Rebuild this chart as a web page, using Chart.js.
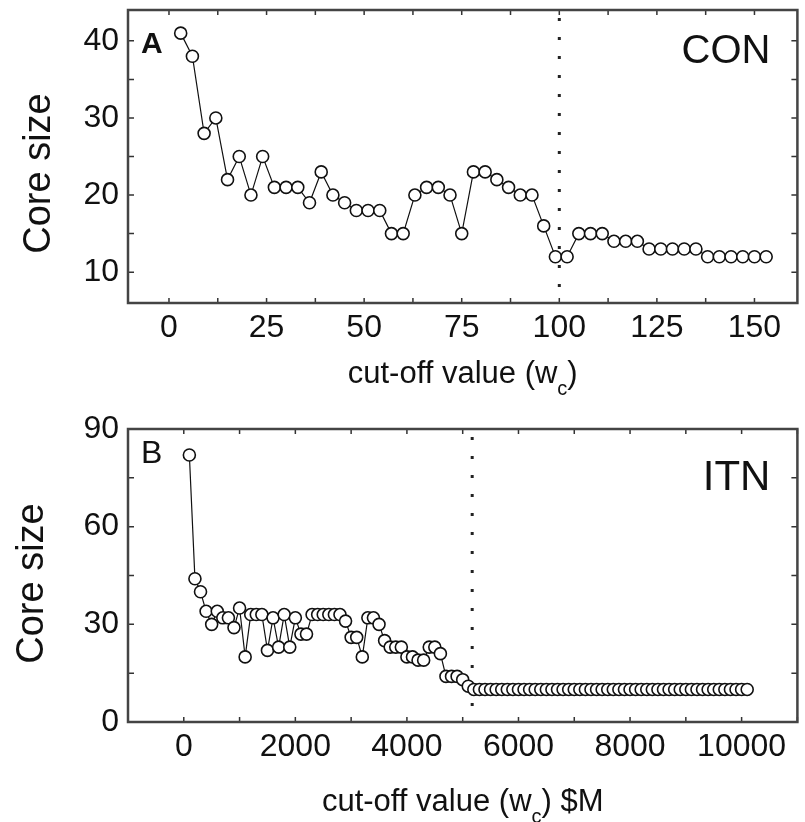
<!DOCTYPE html>
<html>
<head>
<meta charset="utf-8">
<script src="https://cdn.jsdelivr.net/npm/chart.js@4.4.1/dist/chart.umd.min.js"></script>
<style>
  html, body { margin: 0; padding: 0; background: #fff; }
  #wrap { position: relative; width: 805px; height: 822px; }
  canvas { position: absolute; left: 0; }
  #conChart { top: 0; }
  #itnChart { top: 400px; }
</style>
</head>
<body>
<div id="wrap">
  <canvas id="conChart" width="805" height="400"></canvas>
  <canvas id="itnChart" width="805" height="422"></canvas>
</div>
<script>
const FONT = "'Liberation Sans', Arial, Helvetica, sans-serif";
Chart.defaults.font.family = FONT;

// panel A: CON
const conCutoff = [
    3, 6, 9, 12, 15, 18, 21, 24, 27, 30,
    33, 36, 39, 42, 45, 48, 51, 54, 57, 60,
    63, 66, 69, 72, 75, 78, 81, 84, 87, 90,
    93, 96, 99, 102, 105, 108, 111, 114, 117, 120,
    123, 126, 129, 132, 135, 138, 141, 144, 147, 150,
    153
];
const conCore = [
    41, 38, 28, 30, 22, 25, 20, 25, 21, 21,
    21, 19, 23, 20, 19, 18, 18, 18, 15, 15,
    20, 21, 21, 20, 15, 23, 23, 22, 21, 20,
    20, 16, 12, 12, 15, 15, 15, 14, 14, 14,
    13, 13, 13, 13, 13, 12, 12, 12, 12, 12,
    12
];
const conThreshold = 100;
const conXTicks = [0, 25, 50, 75, 100, 125, 150];
const conYTicks = [10, 20, 30, 40];

// panel B: ITN
const itnCutoff = [
    100, 200, 300, 400, 500, 600, 700, 800, 900, 1000,
    1100, 1200, 1300, 1400, 1500, 1600, 1700, 1800, 1900, 2000,
    2100, 2200, 2300, 2400, 2500, 2600, 2700, 2800, 2900, 3000,
    3100, 3200, 3300, 3400, 3500, 3600, 3700, 3800, 3900, 4000,
    4100, 4200, 4300, 4400, 4500, 4600, 4700, 4800, 4900, 5000,
    5100, 5200, 5300, 5400, 5500, 5600, 5700, 5800, 5900, 6000,
    6100, 6200, 6300, 6400, 6500, 6600, 6700, 6800, 6900, 7000,
    7100, 7200, 7300, 7400, 7500, 7600, 7700, 7800, 7900, 8000,
    8100, 8200, 8300, 8400, 8500, 8600, 8700, 8800, 8900, 9000,
    9100, 9200, 9300, 9400, 9500, 9600, 9700, 9800, 9900, 10000,
    10100
];
const itnCore = [
    82, 44, 40, 34, 30, 34, 32, 32, 29, 35,
    20, 33, 33, 33, 22, 32, 23, 33, 23, 32,
    27, 27, 33, 33, 33, 33, 33, 33, 31, 26,
    26, 20, 32, 32, 30, 25, 23, 23, 23, 20,
    20, 19, 19, 23, 23, 21, 14, 14, 14, 13,
    11, 10, 10, 10, 10, 10, 10, 10, 10, 10,
    10, 10, 10, 10, 10, 10, 10, 10, 10, 10,
    10, 10, 10, 10, 10, 10, 10, 10, 10, 10,
    10, 10, 10, 10, 10, 10, 10, 10, 10, 10,
    10, 10, 10, 10, 10, 10, 10, 10, 10, 10,
    10
];
const itnThreshold = 5170;
const itnXTicks = [0, 2000, 4000, 6000, 8000, 10000];
const itnYTicks = [0, 30, 60, 90];

const yTitle = 'Core size';
const conXTitle = ['cut-off value (w', 'c', ')'];
const itnXTitle = ['cut-off value (w', 'c', ') $M'];

function toPoints(xs, ys) {
    return xs.map((x, i) => ({ x: x, y: ys[i] }));
}

// frame, inward ticks, dotted threshold, titles and panel labels
const panelDecor = {
    id: 'panelDecor',
    beforeDatasetsDraw(chart, args, o) {
        const { ctx, chartArea: a } = chart;
        const px = chart.scales.x.getPixelForValue(o.threshold);
        ctx.save();
        ctx.strokeStyle = '#222';
        ctx.lineWidth = 3;
        ctx.setLineDash([3, 16]);
        ctx.beginPath();
        ctx.moveTo(px, a.top + 8);
        ctx.lineTo(px, a.bottom);
        ctx.stroke();
        ctx.restore();
    },
    afterDraw(chart, args, o) {
        const { ctx, chartArea: a } = chart;
        const x = chart.scales.x, y = chart.scales.y;
        ctx.save();

        ctx.strokeStyle = '#333';
        ctx.lineWidth = 1.5;
        ctx.beginPath();
        for (let v = Math.ceil(x.min / o.xStep) * o.xStep; v <= x.max; v += o.xStep) {
            const p = x.getPixelForValue(v);
            ctx.moveTo(p, a.bottom); ctx.lineTo(p, a.bottom - 5);
            ctx.moveTo(p, a.top); ctx.lineTo(p, a.top + 5);
        }
        for (let v = Math.ceil(y.min / o.yStep) * o.yStep; v <= y.max; v += o.yStep) {
            const p = y.getPixelForValue(v);
            ctx.moveTo(a.left, p); ctx.lineTo(a.left + 6, p);
            ctx.moveTo(a.right, p); ctx.lineTo(a.right - 6, p);
        }
        ctx.stroke();

        ctx.strokeStyle = '#444';
        ctx.lineWidth = 2.5;
        ctx.strokeRect(a.left, a.top, a.right - a.left, a.bottom - a.top);

        ctx.fillStyle = '#111';
        ctx.textBaseline = 'alphabetic';

        // panel letter and network name
        ctx.textAlign = 'left';
        ctx.font = o.letterFont;
        ctx.fillText(o.letter, a.left + 13, a.top + o.letterDy);
        ctx.textAlign = 'right';
        ctx.font = o.nameFont;
        ctx.fillText(o.name, a.right - 27, a.top + o.nameDy);

        // x title with subscript
        const [t1, t2, t3] = o.xTitle;
        ctx.textAlign = 'left';
        ctx.font = `31px ${FONT}`;
        const w1 = ctx.measureText(t1).width;
        const w3 = ctx.measureText(t3).width;
        ctx.font = `20px ${FONT}`;
        const w2 = ctx.measureText(t2).width;
        let tx = (a.left + a.right) / 2 - (w1 + w2 + w3) / 2;
        const ty = a.bottom + o.xTitleDy;
        ctx.font = `31px ${FONT}`;
        ctx.fillText(t1, tx, ty);
        tx += w1;
        ctx.font = `20px ${FONT}`;
        ctx.fillText(t2, tx, ty + 12);
        tx += w2;
        ctx.font = `31px ${FONT}`;
        ctx.fillText(t3, tx, ty);

        // y title
        ctx.translate(o.yTitleX, (a.top + a.bottom) / 2 + o.yTitleShift);
        ctx.rotate(-Math.PI / 2);
        ctx.textAlign = 'center';
        ctx.font = `38px ${FONT}`;
        ctx.fillText(yTitle, 0, 0);
        ctx.restore();
    }
};

function makePanel(id, xs, ys, sc, decor) {
    const tickFont = { family: FONT, size: 32 };
    return new Chart(document.getElementById(id), {
        type: 'line',
        data: {
            datasets: [{
                data: toPoints(xs, ys),
                borderColor: '#111',
                borderWidth: 1.2,
                pointRadius: 6,
                pointBorderWidth: 1.6,
                pointBackgroundColor: '#fff',
                pointBorderColor: '#111',
                tension: 0
            }]
        },
        options: {
            responsive: false,
            animation: false,
            layout: { padding: { top: sc.padTop, right: 4, left: 0, bottom: 0 } },
            plugins: {
                legend: { display: false },
                tooltip: { enabled: false },
                panelDecor: decor
            },
            scales: {
                x: {
                    type: 'linear',
                    min: sc.xMin,
                    max: sc.xMax,
                    grid: { display: false, drawTicks: false },
                    border: { display: false },
                    afterBuildTicks: s => { s.ticks = sc.xTicks.map(v => ({ value: v })); },
                    ticks: {
                        autoSkip: false,
                        maxRotation: 0,
                        padding: 6,
                        color: '#111',
                        font: tickFont,
                        callback: v => String(v)
                    },
                    afterFit: s => {
                        s.height = sc.xAxisH;
                        s.paddingLeft = 0;
                        s.paddingRight = 0;
                    }
                },
                y: {
                    min: sc.yMin,
                    max: sc.yMax,
                    grid: { display: false, drawTicks: false },
                    border: { display: false },
                    afterBuildTicks: s => { s.ticks = sc.yTicks.map(v => ({ value: v })); },
                    ticks: {
                        padding: 9,
                        color: '#111',
                        font: tickFont,
                        callback: v => String(v)
                    },
                    afterFit: s => {
                        s.width = 128;
                        s.paddingTop = 0;
                        s.paddingBottom = 0;
                    }
                }
            }
        },
        plugins: [panelDecor]
    });
}

makePanel('conChart', conCutoff, conCore,
    { padTop: 10, xMin: -10.5, xMax: 161, yMin: 6, yMax: 44, xTicks: conXTicks, yTicks: conYTicks, xAxisH: 97 },
    { threshold: conThreshold, xStep: 12.5, yStep: 5, letter: 'A', letterFont: `bold 30px ${FONT}`, letterDy: 43,
      name: 'CON', nameFont: `40px ${FONT}`, nameDy: 53, xTitle: conXTitle, xTitleDy: 80,
      yTitleX: 50, yTitleShift: 17 });

makePanel('itnChart', itnCutoff, itnCore,
    { padTop: 29, xMin: -1000, xMax: 11000, yMin: 0, yMax: 90, xTicks: itnXTicks, yTicks: itnYTicks, xAxisH: 100 },
    { threshold: itnThreshold, xStep: 1000, yStep: 15, letter: 'B', letterFont: `32px ${FONT}`, letterDy: 34,
      name: 'ITN', nameFont: `42px ${FONT}`, nameDy: 61, xTitle: itnXTitle, xTitleDy: 89,
      yTitleX: 43, yTitleShift: 8 });
</script>
</body>
</html>
